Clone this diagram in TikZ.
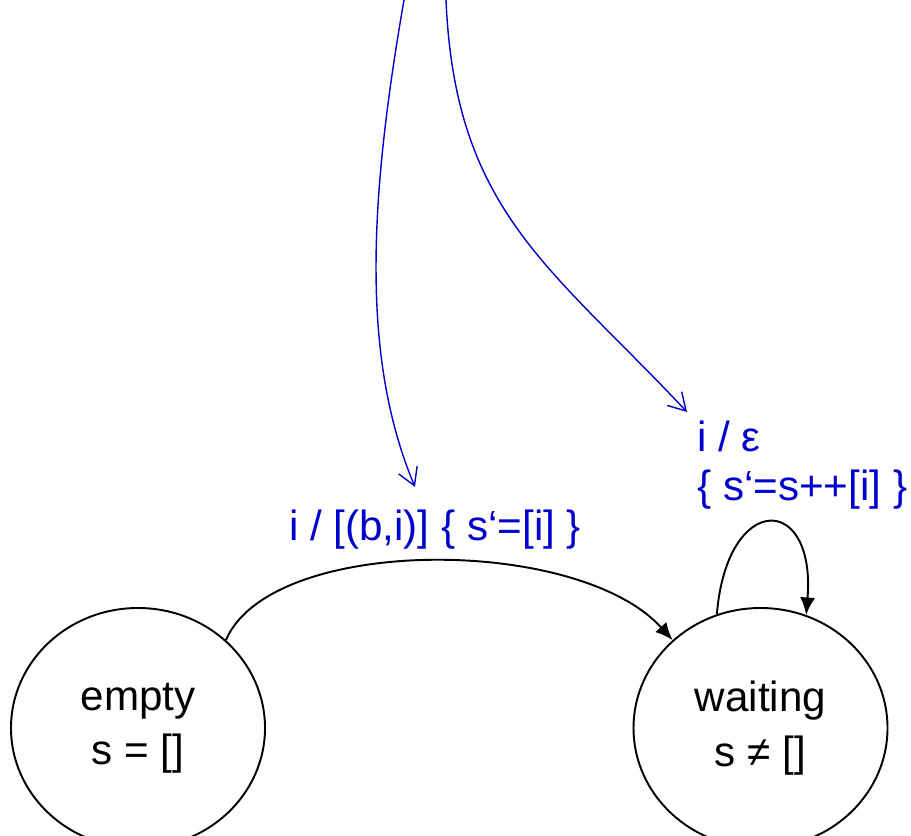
\documentclass[tikz,border=0pt]{standalone}
\usepackage{fontspec}
\setmainfont{Liberation Sans}
\usepackage{tikz}
\usetikzlibrary{positioning}
\usetikzlibrary{shapes.geometric}
\usetikzlibrary{arrows.meta}
\colorlet{trcol}{blue!80!black}
\tikzset{>=latex}
\begin{document}
\begin{tikzpicture}[
    every node/.style={font=\fontsize{24}{28}\selectfont},
    state/.style={draw,ellipse,line width=1.1pt,inner sep=0pt,align=center,
      minimum width=5.08cm,minimum height=4.8cm,font=\fontsize{24}{31}\selectfont},
    trans/.style={line width=1.1pt,-{Latex[length=3.5mm,width=3mm]}},
    ext/.style={trcol,line width=0.8pt,-{Straight Barb[length=3.4mm,width=4mm]}},
    lbl/.style={trcol,inner sep=0pt}]

\useasboundingbox (0,0) rectangle (18.22,16.72);

% States
\node[state] (empty) at (2.76,2.16) {empty\\s = []};
\node[state] (waiting) at (15.21,2.16) {waiting\\s ≠ []};

% Transition empty -> waiting
\draw[trans] (empty.45) .. controls +(0.9,2.1) and +(-1.9,2.1) .. (waiting.135);
\node[lbl] (lblfill) at (8.7,6.12) {i / [(b,i)] \{ s‘=[i] \}};

% Self loop on waiting
\draw[trans] (waiting.111) .. controls +(0.2,2.45) and +(0.2,2.45) .. (waiting.68);
\node[lbl,anchor=west,align=left] (lbladd) at (13.94,7.42) {i / ε\\\{ s‘=s++[i] \}};

% Incoming transitions from above
\coordinate (src1) at (8.08,16.72);
\coordinate (src2) at (8.92,16.72);
\coordinate (tip1) at (8.3,6.98);
\coordinate (tip2) at (13.74,8.48);
\draw[ext] (src1) .. controls (7.4,12.8) and (7.2,9.6) .. (tip1);
\draw[ext] (src2) .. controls (9.1,12.5) and (11.0,11.4) .. (tip2);

\end{tikzpicture}
\end{document}
